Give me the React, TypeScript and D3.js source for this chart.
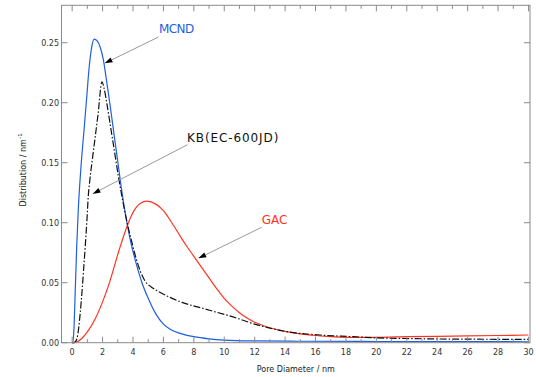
import React from "react";
import * as d3 from "d3";

const W = 536;
const H = 377;

// Pore diameter (nm) / distribution (nm^-1)
const mcndX = [0, 0.05, 0.12, 0.2, 0.3, 0.4, 0.5, 0.6, 0.78, 0.96, 1.13, 1.28, 1.45, 1.65, 1.85, 2.05, 2.25, 2.5, 2.75, 3.0, 3.2, 3.4, 3.61, 3.8, 4.0, 4.3, 4.59, 5.0, 5.5, 6.0, 6.5, 7.1, 8.0, 9.0, 10, 12, 15, 20, 25, 30];
const mcndY = [0, 0, 0.012, 0.042, 0.08, 0.11, 0.132, 0.15, 0.177, 0.205, 0.231, 0.246, 0.253, 0.2515, 0.246, 0.236, 0.2195, 0.1975, 0.174, 0.151, 0.132, 0.115, 0.0995, 0.087, 0.076, 0.062, 0.05, 0.037, 0.024, 0.0155, 0.0108, 0.0078, 0.005, 0.0032, 0.0022, 0.0015, 0.0012, 0.001, 0.0009, 0.0008];

const kbX = [0, 0.12, 0.32, 0.54, 0.76, 0.98, 1.06, 1.15, 1.3, 1.42, 1.7, 1.96, 2.1, 2.3, 2.55, 2.8, 3.05, 3.3, 3.6, 3.9, 4.2, 4.5, 4.81, 5.2, 5.69, 6.43, 7.22, 8.62, 10.82, 12.0, 12.57, 14.1, 16.3, 18.5, 20, 22, 25, 30];
const kbY = [0, 0, 0.0037, 0.026, 0.062, 0.104, 0.122, 0.134, 0.15, 0.162, 0.19, 0.2175, 0.212, 0.198, 0.178, 0.158, 0.138, 0.12, 0.101, 0.085, 0.0705, 0.059, 0.051, 0.0465, 0.0425, 0.0378, 0.0336, 0.0285, 0.0205, 0.0155, 0.0135, 0.0092, 0.0064, 0.005, 0.004, 0.0035, 0.003, 0.0028];

const gacX = [0, 0.12, 0.65, 1.0, 1.52, 2.0, 2.4, 3.06, 3.61, 3.9, 4.2, 4.5, 4.9, 5.5, 6.0, 6.5, 7.0, 7.5, 8.0, 8.5, 9.0, 9.5, 10.0, 10.5, 11.0, 11.5, 12.0, 12.5, 13, 14, 15, 16, 17, 18, 20, 22, 25, 28, 30];
const gacY = [0, 0, 0.0037, 0.009, 0.02, 0.034, 0.048, 0.076, 0.097, 0.106, 0.1125, 0.1163, 0.118, 0.1155, 0.11, 0.101, 0.091, 0.081, 0.072, 0.063, 0.054, 0.045, 0.037, 0.0305, 0.025, 0.0205, 0.017, 0.0145, 0.0125, 0.0095, 0.0074, 0.006, 0.005, 0.0045, 0.0045, 0.005, 0.0055, 0.006, 0.0064];

const xMajorTicks = d3.range(0, 31, 2);
const xMinorTicks = d3.range(0, 31, 1);
const yTicks = [0, 0.05, 0.1, 0.15, 0.2, 0.25];

// annotations: label position and arrow [start, tip] in data units
const annLabels = ["MCND", "KB(EC-600JD)", "GAC"];
const annLabelX = [5.71, 7.55, 12.46];
const annLabelY = [0.2577, 0.1675, 0.099];
const annFromX = [5.68, 7.58, 12.46];
const annFromY = [0.2548, 0.165, 0.0962];
const annToX = [2.13, 1.34, 8.29];
const annToY = [0.2328, 0.124, 0.0703];
const annColors = ["#1f5fe0", "#111111", "#ff3322"];
const annSpacing = [-0.6, 0.9, 0];

const x = d3.scaleLinear().domain([-0.7, 30.1]).range([61.5, 530]);
const y = d3.scaleLinear().domain([0, 0.2812]).range([342.7, 5.3]);

function toPts(xs: number[], ys: number[]): [number, number][] {
  return xs.map((v, i) => [v, ys[i]] as [number, number]);
}

const line = d3
  .line<[number, number]>()
  .x((d) => x(d[0]))
  .y((d) => y(d[1]))
  .curve(d3.curveMonotoneX);

const FONT = "'DejaVu Sans', Verdana, sans-serif";
const AXIS = "#8a8a8a";

export default function App() {
  const [x0, x1] = x.range();
  const [yb, yt] = y.range();
  return (
    <svg
      width={W}
      height={H}
      style={{ position: "absolute", left: 0, top: 0, background: "#fff" }}
      fontFamily={FONT}
    >
      <rect x={0} y={0} width={W} height={H} fill="#fff" />
      {/* curves */}
      <path d={line(toPts(gacX, gacY)) || ""} fill="none" stroke="#ff3322" strokeWidth={1.2} />
      <path d={line(toPts(mcndX, mcndY)) || ""} fill="none" stroke="#1f5fe0" strokeWidth={1.2} />
      <path
        d={line(toPts(kbX, kbY)) || ""}
        fill="none"
        stroke="#111"
        strokeWidth={1.2}
        strokeDasharray="7,2,1.5,2"
      />
      {/* frame */}
      <rect x={x0} y={yt} width={x1 - x0} height={yb - yt} fill="none" stroke={AXIS} strokeWidth={1} />
      {/* x ticks */}
      {xMinorTicks.map((t) => {
        const major = t % 2 === 0;
        const len = major ? 6 : 3.5;
        return (
          <g key={"xt" + t} stroke={AXIS} strokeWidth={1}>
            <line x1={x(t)} x2={x(t)} y1={yb} y2={yb - len} />
            <line x1={x(t)} x2={x(t)} y1={yt} y2={yt + len} />
          </g>
        );
      })}
      {xMajorTicks.map((t) => (
        <text key={"xl" + t} x={x(t)} y={354.5} textAnchor="middle" fontSize={8} fill="#333">
          {t}
        </text>
      ))}
      {/* y ticks */}
      {yTicks.map((t) => (
        <g key={"yt" + t}>
          <line x1={x0} x2={x0 + 6} y1={y(t)} y2={y(t)} stroke={AXIS} />
          <line x1={x1} x2={x1 - 6} y1={y(t)} y2={y(t)} stroke={AXIS} />
          <text x={59} y={y(t)} dy="0.35em" textAnchor="end" fontSize={8} fill="#333">
            {d3.format(".2f")(t)}
          </text>
        </g>
      ))}
      {/* axis titles */}
      <text x={(x0 + x1) / 2} y={371.5} textAnchor="middle" fontSize={8} fill="#222">
        Pore Diameter / nm
      </text>
      <text transform="translate(25.5,206.5) rotate(-90)" fontSize={8} fill="#222">
        Distribution / nm
        <tspan fontSize={5.5} dy={-3.5} dx={0.5}>
          -1
        </tspan>
      </text>
      {/* annotations */}
      {annLabels.map((lab, i) => {
        const sx = x(annFromX[i]);
        const sy = y(annFromY[i]);
        const tx = x(annToX[i]);
        const ty = y(annToY[i]);
        const ang = Math.atan2(ty - sy, tx - sx);
        const L = 8;
        const Wd = 2.6;
        const bx = tx - L * Math.cos(ang);
        const by = ty - L * Math.sin(ang);
        const px = -Math.sin(ang) * Wd;
        const py = Math.cos(ang) * Wd;
        return (
          <g key={"ann" + i}>
            <line x1={sx} y1={sy} x2={bx} y2={by} stroke="#9a9a9a" strokeWidth={1} />
            <polygon
              points={`${tx},${ty} ${bx + px},${by + py} ${bx - px},${by - py}`}
              fill="#000"
            />
            <text
              x={x(annLabelX[i])}
              y={y(annLabelY[i])}
              fontSize={12}
              fill={annColors[i]}
              letterSpacing={annSpacing[i]}
            >
              {lab}
            </text>
          </g>
        );
      })}
    </svg>
  );
}
